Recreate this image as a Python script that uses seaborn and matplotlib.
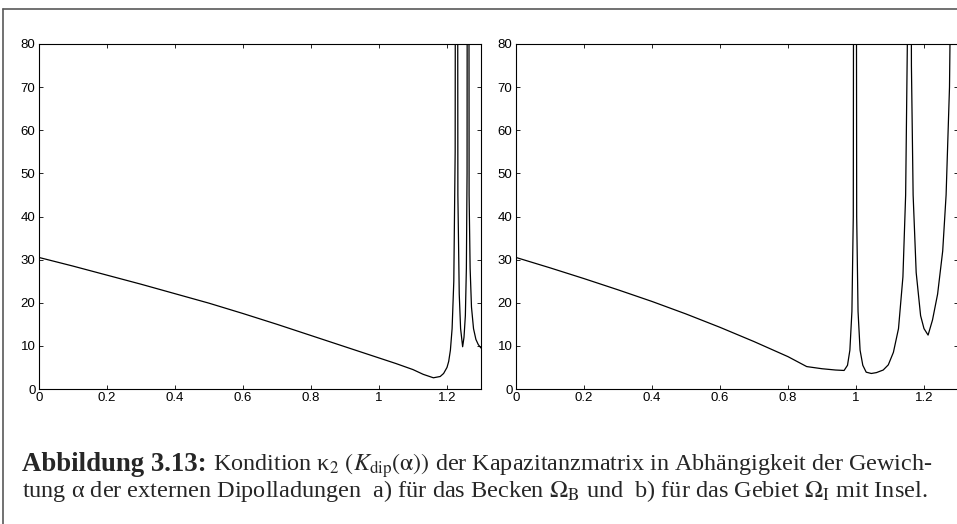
import matplotlib
matplotlib.use('Agg')
import matplotlib.pyplot as plt
import seaborn as sns
import pandas as pd
from matplotlib.lines import Line2D

# a) Becken: Gewichtung alpha vs. Kondition kappa_2
alpha_a = [0.0, 0.1, 0.2, 0.3, 0.4, 0.5, 0.6, 0.7, 0.8, 0.9, 1.0, 1.05, 1.1,
           1.13, 1.16, 1.18, 1.19, 1.2, 1.205, 1.21, 1.215, 1.22, 1.224,
           1.228, 1.232, 1.236, 1.24, 1.246, 1.25, 1.254, 1.257, 1.259,
           1.262, 1.265, 1.268, 1.272, 1.278, 1.285, 1.292, 1.3]
kappa_a = [30.5, 28.5, 26.4, 24.3, 22.1, 19.9, 17.5, 15.0, 12.4, 9.8, 7.2, 5.9, 4.5,
           3.4, 2.6, 2.9, 3.6, 5.0, 6.4, 9.0, 14.0, 25.0, 55.0,
           400.0, 45.0, 22.0, 14.0, 9.8, 12.0, 17.0, 28.0, 50.0,
           400.0, 45.0, 28.0, 19.0, 14.0, 11.5, 10.3, 9.5]

# b) Gebiet mit Insel
alpha_b = [0.0, 0.1, 0.2, 0.3, 0.4, 0.5, 0.6, 0.7, 0.8, 0.855, 0.9, 0.94, 0.965,
           0.975, 0.982, 0.988, 0.992, 0.997, 1.002, 1.006, 1.012, 1.02, 1.03,
           1.045, 1.06, 1.08, 1.095, 1.11, 1.125, 1.138, 1.146, 1.151, 1.157,
           1.163, 1.168, 1.177, 1.19, 1.2, 1.212, 1.225, 1.24, 1.255, 1.265,
           1.275, 1.282, 1.29, 1.3]
kappa_b = [30.5, 28.1, 25.6, 23.0, 20.3, 17.4, 14.3, 11.0, 7.5, 5.2, 4.7, 4.4, 4.3,
           5.5, 9.0, 18.0, 40.0, 400.0, 40.0, 18.0, 9.0, 5.5, 3.9,
           3.6, 3.8, 4.4, 5.6, 8.5, 14.0, 26.0, 45.0, 80.0, 400.0,
           75.0, 45.0, 27.0, 17.0, 14.0, 12.5, 16.0, 22.0, 32.0, 45.0,
           70.0, 120.0, 300.0, 600.0]

x_ticks = [0, 0.2, 0.4, 0.6, 0.8, 1.0, 1.2]
x_labels = ['0', '0.2', '0.4', '0.6', '0.8', '1', '1.2']
y_ticks = [0, 10, 20, 30, 40, 50, 60, 70, 80]

sns.set_style('white')
plt.rcParams['font.family'] = ['Liberation Sans', 'DejaVu Sans']
plt.rcParams['mathtext.fontset'] = 'stix'

fig = plt.figure(figsize=(9.57, 5.24), dpi=100)
ax_a = fig.add_axes([39 / 957, 1 - 389 / 524, 442 / 957, 345 / 524])
ax_b = fig.add_axes([516 / 957, 1 - 389 / 524, 442 / 957, 345 / 524])

for ax, a, k in [(ax_a, alpha_a, kappa_a), (ax_b, alpha_b, kappa_b)]:
    df = pd.DataFrame({'alpha': a, 'kappa': k})
    sns.lineplot(data=df, x='alpha', y='kappa', ax=ax, color='black',
                 linewidth=0.9, estimator=None)
    ax.set_xlim(0, 1.3)
    ax.set_ylim(0, 80)
    ax.set_xticks(x_ticks)
    ax.set_xticklabels(x_labels)
    ax.set_yticks(y_ticks)
    ax.set_xlabel('')
    ax.set_ylabel('')
    ax.tick_params(direction='in', length=3, width=0.6, bottom=True, left=True,
                   top=True, right=True, labelsize=9.5, pad=2.5, colors='black')
    for s in ax.spines.values():
        s.set_visible(True)
        s.set_linewidth(0.8)
        s.set_color('black')

# scan frame
fig.add_artist(Line2D([3 / 957, 3 / 957], [0, 1 - 9 / 524],
                      transform=fig.transFigure, color='0.35', lw=1.2))
fig.add_artist(Line2D([3 / 957, 1], [1 - 9 / 524, 1 - 9 / 524],
                      transform=fig.transFigure, color='0.35', lw=1.2))

# caption
serif = ['Liberation Serif', 'DejaVu Serif']
bold = fig.text(22 / 957, 1 - 471 / 524, 'Abbildung 3.13:', family=serif,
                fontweight='bold', fontsize=19.3, va='baseline')
renderer = fig.canvas.get_renderer()
x_end = bold.get_window_extent(renderer).x1
fig.text((x_end + 6) / 957, 1 - 471 / 524,
         r'Kondition κ$_2$ $\left(K_{\mathrm{dip}}(\mathrm{\alpha})\right)$ der Kapazitanzmatrix in Abhängigkeit der Gewich-',
         family=serif, fontsize=17.4, va='baseline')
fig.text(22 / 957, 1 - 497 / 524,
         r'tung α der externen Dipolladungen  a) für das Becken $\Omega_{\mathrm{B}}$ und  b) für das Gebiet $\Omega_{\mathrm{I}}$ mit Insel.',
         family=serif, fontsize=17.5, va='baseline')

fig.savefig('out.png', dpi=100)
